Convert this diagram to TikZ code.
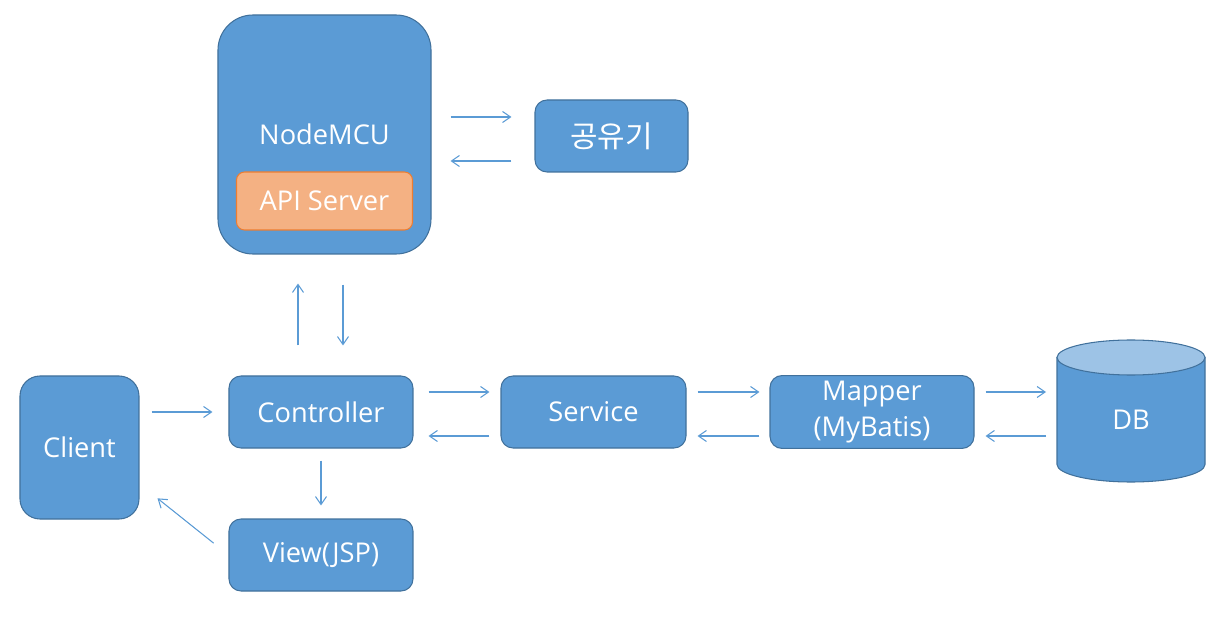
\documentclass[tikz,border=0pt]{standalone}
\usepackage{fontspec}
\setmainfont{Open Sans}
\newfontfamily\kr{Noto Sans CJK KR}
\usepackage{xcolor}
\usepackage{tikz}
\usetikzlibrary{shapes,arrows}
\usetikzlibrary{arrows.meta}
\usetikzlibrary{backgrounds}
\definecolor{boxblue}{HTML}{5B9BD5}
\definecolor{boxborder}{HTML}{41719C}
\definecolor{dbtop}{HTML}{9DC3E6}
\definecolor{apifill}{HTML}{F4B183}
\definecolor{apiborder}{HTML}{ED7D31}

\begin{document}
\begin{tikzpicture}
        \tikzstyle{block} = [rectangle, draw=boxborder, fill=boxblue, text=white, line width=0.6pt, align=center, minimum width=3.68cm, minimum height=1.44cm, rounded corners=0.24cm, font=\fontsize{15.5}{20}\selectfont]
        \tikzstyle{line} = [draw=boxblue, line width=0.6pt, -{Straight Barb[length=1.6mm, width=2.2mm]}]

        \useasboundingbox (-6.42,-4.2) rectangle (18.14,8.24);

        \node [block] (controller) {Controller};
        \node [block, right of=controller, node distance=5.45cm, minimum width=3.7cm] (service) {Service};
        \node [block, right of=service, node distance=5.57cm, minimum width=4.08cm] (mapper) {Mapper \\ (MyBatis)};
        \node [right of=mapper, node distance=5.18cm, yshift=0.02cm, minimum width=2.96cm, minimum height=2.84cm, inner sep=0pt, outer sep=0pt, text=white, text height=0.75cm, font=\fontsize{15.5}{20}\selectfont] (db) {DB};
        \node [block, below of=controller, node distance=2.86cm] (view) {View(JSP)};
        \node [block, left of=controller, node distance=4.83cm, yshift=-0.71cm, minimum width=2.38cm, minimum height=2.86cm, rounded corners=0.4cm] (client) {Client};
        \node [block, above of=controller, node distance=5.55cm, xshift=0.07cm, minimum width=4.26cm, minimum height=4.78cm, rounded corners=0.7cm] (nodemcu) {NodeMCU};
        \node [block, below of=nodemcu, node distance=1.33cm, fill=apifill, draw=apiborder, minimum width=3.52cm, minimum height=1.16cm, rounded corners=0.16cm] (apiserver) {API Server};
        \node [block, right of=nodemcu, node distance=5.74cm, yshift=-0.03cm, minimum width=3.06cm] (router) {\kr\fontsize{17}{20}\selectfont 공유기};

        \begin{scope}[on background layer]
        \path [fill=boxblue, draw=boxborder, line width=0.6pt] ([yshift=-0.35cm]db.north west) -- ([yshift=0.35cm]db.south west) arc[start angle=180, end angle=360, x radius=1.48cm, y radius=0.35cm] -- ([yshift=-0.35cm]db.north east) -- cycle;
        \path [fill=dbtop, draw=boxborder, line width=0.6pt] ([yshift=-0.35cm]db.north) ellipse [x radius=1.48cm, y radius=0.35cm];
        \end{scope}

        \path [line, shorten <=0.38cm, shorten >=0.46cm] ([yshift=0.38cm]router.west -| nodemcu.east) -- ([yshift=0.38cm]router.west);
        \path [line, shorten <=0.46cm, shorten >=0.38cm] ([yshift=-0.5cm]router.west) -- ([yshift=-0.5cm]router.west -| nodemcu.east);
        \path [line, shorten <=0.6cm, shorten >=0.58cm] ([xshift=-0.46cm]controller.north) -- ([xshift=-0.46cm]controller.north |- nodemcu.south);
        \path [line, shorten <=0.6cm, shorten >=0.6cm] ([xshift=0.44cm]controller.north |- nodemcu.south) -- ([xshift=0.44cm]controller.north);
        \path [line, shorten <=0.24cm, shorten >=0.32cm] (client.east |- controller.west) -- (controller.west);
        \path [line, shorten <=0.3cm, shorten >=0.22cm] ([yshift=0.4cm]controller.east) -- ([yshift=0.4cm]service.west);
        \path [line, shorten <=0.22cm, shorten >=0.3cm] ([yshift=-0.48cm]service.west) -- ([yshift=-0.48cm]controller.east);
        \path [line, shorten <=0.22cm, shorten >=0.2cm] ([yshift=0.4cm]service.east) -- ([yshift=0.4cm]mapper.west);
        \path [line, shorten <=0.2cm, shorten >=0.22cm] ([yshift=-0.48cm]mapper.west) -- ([yshift=-0.48cm]service.east);
        \path [line, shorten <=0.22cm, shorten >=0.22cm] ([yshift=0.4cm]mapper.east) -- ([yshift=0.4cm]mapper.east -| db.west);
        \path [line, shorten <=0.22cm, shorten >=0.22cm] ([yshift=-0.48cm]mapper.east -| db.west) -- ([yshift=-0.48cm]mapper.east);
        \path [line, shorten <=0.24cm, shorten >=0.26cm] (controller.south) -- (view.north);
        \path [line, shorten <=0.38cm, shorten >=0.46cm] (view.west) -- ([yshift=-0.73cm]client.east);
    \end{tikzpicture}
\end{document}
